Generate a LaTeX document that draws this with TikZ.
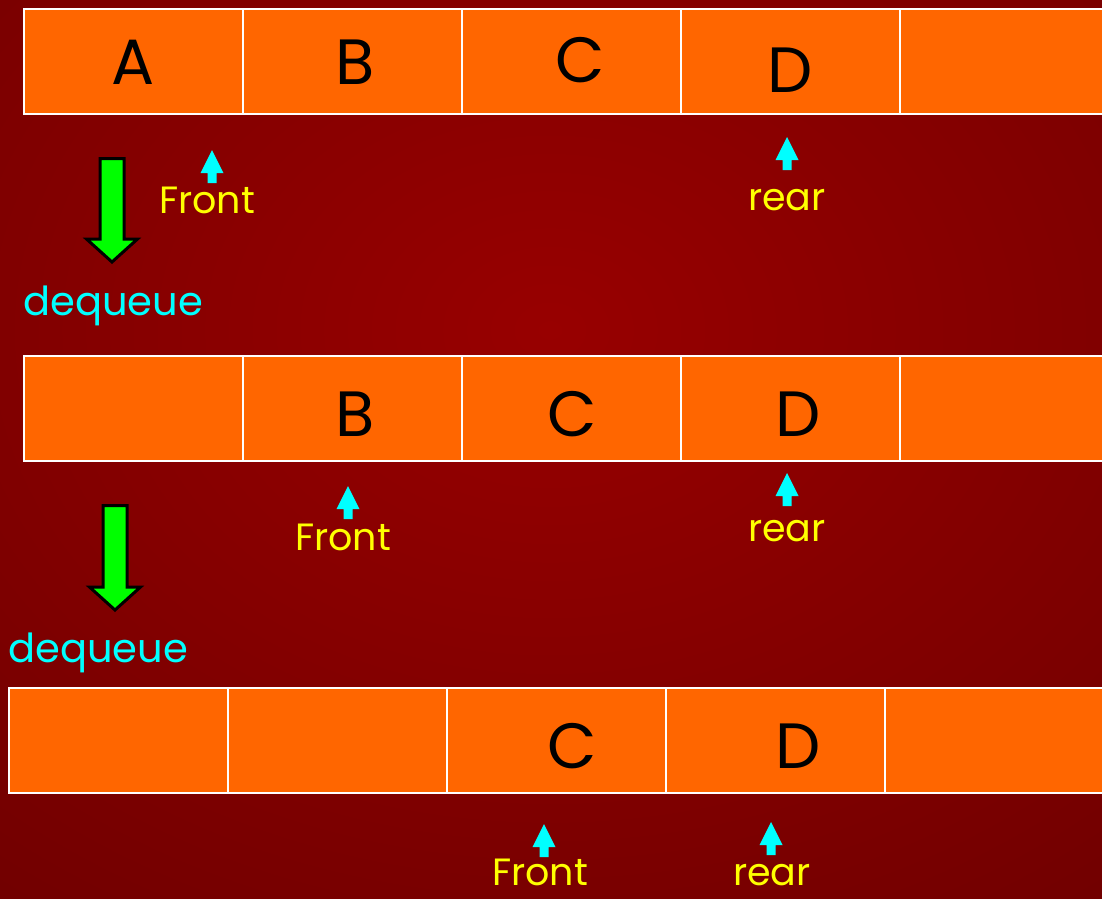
\documentclass[tikz,border=0pt]{standalone}
\usepackage{fontspec}
\setmainfont{Poppins}
\definecolor{qorange}{HTML}{FF6600}
\definecolor{qyellow}{HTML}{FFFF00}
\definecolor{qcyan}{HTML}{00FFFF}
\definecolor{qgreen}{HTML}{00FF00}
\definecolor{bginner}{HTML}{980000}
\definecolor{bgouter}{HTML}{6E0000}
\newcommand\qptr[2]{%
  \fill[ptr] (#1,#2) -- ({#1+11.5},{#2+23}) -- ({#1+4.5},{#2+23}) -- ({#1+4.5},{#2+33})
    -- ({#1-4.5},{#2+33}) -- ({#1-4.5},{#2+23}) -- ({#1-11.5},{#2+23}) -- cycle;}
\newcommand\qdown[4]{% cx, top, headbase, tip
  \draw[bigarrow] ({#1-12},#2) -- ({#1+12},#2) -- ({#1+12},#3) -- ({#1+25.5},#3) -- (#1,#4)
    -- ({#1-25.5},#3) -- ({#1-12},#3) -- cycle;}
\begin{document}
\begin{tikzpicture}[x=1pt,y=-1pt,
  cell/.style={draw=white, line width=2pt, fill=qorange, minimum width=219pt,
    minimum height=105pt, inner sep=0pt, anchor=north west},
  letter/.style={font=\fontsize{64}{64}\selectfont, text=black, anchor=base, inner sep=0pt},
  ylab/.style={font=\fontsize{38}{38}\selectfont, text=qyellow, anchor=base, inner sep=0pt},
  clab/.style={font=\fontsize{40}{40}\selectfont, text=qcyan, anchor=base, inner sep=0pt},
  ptr/.style={fill=qcyan},
  bigarrow/.style={fill=qgreen, draw=black, line width=3pt, miter limit=10}]
\useasboundingbox (0,0) rectangle (1102,898);
\clip (0,0) rectangle (1102,898);
\shade[inner color=bginner, outer color=bgouter] (-450,-450) rectangle (1550,1110);

% row 1
\node[cell] (r1c1) at (23,8) {};
\node[cell] (r1c2) at (242,8) {};
\node[cell] (r1c3) at (461,8) {};
\node[cell] (r1c4) at (680,8) {};
\node[cell] (r1c5) at (899,8) {};
\node[letter] (a1) at (133,84) {A};
\node[letter] (b1) at (355,84) {B};
\node[letter] (c1) at (580,82) {C};
\node[letter] (d1) at (790,92) {D};

% row 2
\node[cell] (r2c1) at (23,355) {};
\node[cell] (r2c2) at (242,355) {};
\node[cell] (r2c3) at (461,355) {};
\node[cell] (r2c4) at (680,355) {};
\node[cell] (r2c5) at (899,355) {};
\node[letter] (b2) at (355,436) {B};
\node[letter] (c2) at (572,436) {C};
\node[letter] (d2) at (798,436) {D};

% row 3
\node[cell] (r3c1) at (8,687) {};
\node[cell] (r3c2) at (227,687) {};
\node[cell] (r3c3) at (446,687) {};
\node[cell] (r3c4) at (665,687) {};
\node[cell] (r3c5) at (884,687) {};
\node[letter] (c3) at (572,768) {C};
\node[letter] (d3) at (798,768) {D};

% pointers and labels
\qptr{212}{150}
\node[ylab] (front1) at (207,213) {Front};
\qptr{787}{137}
\node[ylab] (rear1) at (787,210) {rear};

\qptr{348}{486}
\node[ylab] (front2) at (343,550) {Front};
\qptr{787}{473}
\node[ylab] (rear2) at (787,541) {rear};

\qptr{544}{824}
\node[ylab] (front3) at (540,885) {Front};
\qptr{771}{822}
\node[ylab] (rear3) at (772,885) {rear};

% dequeue arrows
\qdown{112}{158.5}{239}{262}
\node[clab] (deq1) at (113,315) {dequeue};
\qdown{115}{505.5}{587}{610}
\node[clab] (deq2) at (98,662) {dequeue};
\end{tikzpicture}
\end{document}
